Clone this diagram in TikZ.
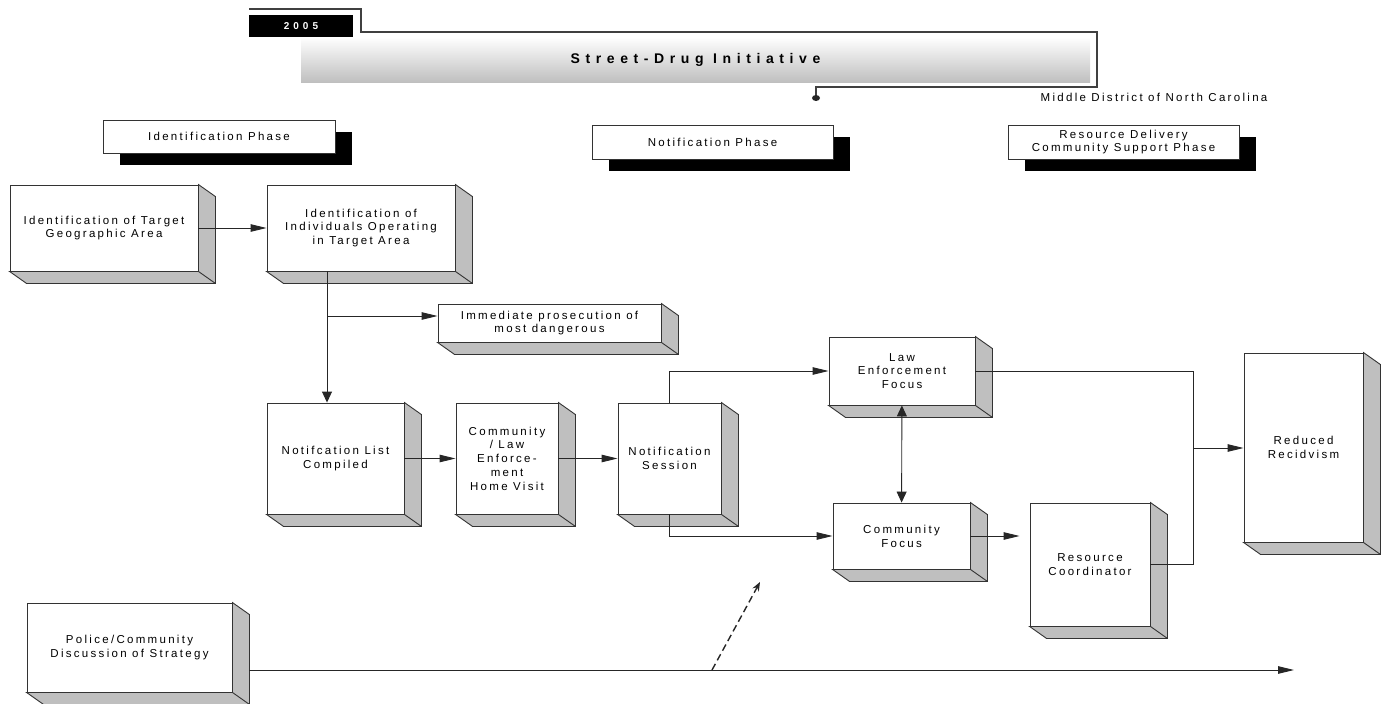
\documentclass[tikz,border=0pt]{standalone}
\usepackage{fontspec}
\setmainfont{Liberation Sans}[LetterSpace=20]
\newfontfamily\titlefont{Liberation Sans}[LetterSpace=40]
\newfontfamily\yearfont{Liberation Sans}[LetterSpace=40]
\usetikzlibrary{arrows.meta,shadows,calc}

\tikzset{
  box/.style={draw=black!80, fill=white, line width=0.9pt, align=center, inner sep=0pt,
    font=\fontsize{11.5}{13.8}\selectfont},
  phase/.style={box, drop shadow={shadow xshift=17pt, shadow yshift=-12pt, fill=black, opacity=1}},
  face/.style={draw=black!80, fill=black!25, line width=0.9pt},
  conn/.style={draw=black!85, line width=0.9pt},
  arr/.style={-{Triangle[length=16pt,width=7.5pt]}},
  varr/.style={-{Triangle[length=11pt,width=10pt]}},
  dbl/.style={{Triangle[length=11pt,width=10pt]}-{Triangle[length=11pt,width=10pt]}}
}

\begin{document}
\begin{tikzpicture}[x=1pt,y=-1pt]
  \useasboundingbox (0,0) rectangle (1382,704);

  % title
  \node[top color=white, bottom color=black!25, minimum width=789pt, minimum height=45pt, inner sep=0pt,
    font=\titlefont\fontsize{14}{16}\selectfont\bfseries] (ttl) at (695.5,59.5) {Street-Drug Initiative};
  \node[fill=black, text=white, minimum width=104pt, minimum height=22pt, inner sep=0pt,
    font=\yearfont\fontsize{10}{11}\selectfont\bfseries] (yr) at (301,26) {2005};
  \draw[black!75, line width=1.2pt] (249,9) -- (361,9) -- (361,32) -- (1097,32) -- (1097,87) -- (816,87) -- (816,97);
  \fill[black!85] (816,98) ellipse (4pt and 3pt);
  \node[font=\fontsize{11.5}{13}\selectfont] (mdc) at (1154,97) {Middle District of North Carolina};

  % phases
  \node[phase, minimum width=232pt, minimum height=33pt] (idp) at (219,136.5) {Identification Phase};
  \node[phase, minimum width=241pt, minimum height=34pt] (ntp) at (712.5,142) {Notification Phase};
  \node[phase, minimum width=231pt, minimum height=34pt] (rdp) at (1123.5,142) {Resource Delivery\\Community Support Phase};

  % steps
  \node[box, minimum width=188pt, minimum height=86pt] (tga) at (104,228) {Identification of Target\\Geographic Area};
  \node[box, minimum width=188pt, minimum height=86pt] (ind) at (361,228) {Identification of\\Individuals Operating\\in Target Area};
  \node[box, minimum width=223pt, minimum height=38pt] (imm) at (549.5,323) {Immediate prosecution of\\most dangerous};
  \node[box, minimum width=137pt, minimum height=111pt] (nlc) at (335.5,458.5) {Notifcation List\\Compiled};
  \node[box, minimum width=102pt, minimum height=111pt] (clh) at (507,458.5) {Community\\/ Law\\Enforce-\\ment\\Home Visit};
  \node[box, minimum width=103pt, minimum height=111pt] (ns) at (669.5,458.5) {Notification\\Session};
  \node[box, minimum width=146pt, minimum height=68pt] (lef) at (902,371) {Law\\Enforcement\\Focus};
  \node[box, minimum width=137pt, minimum height=66pt] (cf) at (901.5,536) {Community\\Focus};
  \node[box, minimum width=120pt, minimum height=123pt] (rc) at (1090,564.5) {Resource\\Coordinator};
  \node[box, minimum width=119pt, minimum height=189pt] (rr) at (1303.5,447.5) {Reduced\\Recidvism};
  \node[box, minimum width=205pt, minimum height=89pt] (pcd) at (129.5,647.5) {Police/Community\\Discussion of Strategy};

  \foreach \n in {tga,ind,imm,nlc,clh,ns,lef,cf,rc,rr,pcd}
    \draw[face] (\n.north east) -- ++(17,12) -- ($(\n.south east)+(17,12)$) -- ($(\n.south west)+(17,12)$)
      -- (\n.south west) -- (\n.south east) -- cycle (\n.south east) -- ++(17,12);

  \coordinate (split) at (327,316);
  \coordinate (mrg) at (1193,448);
  \coordinate (tls) at ($(pcd.east)+(17,22.5)$);
  \coordinate (tle) at (1294,670);
  \coordinate (dsa) at (712,670);
  \coordinate (dsb) at (760,582);

  \draw[conn,arr] (tga) -- (ind);
  \draw[conn,varr] (ind.south -| split) -- (nlc.north -| split);
  \draw[conn,arr] (split) -- (split -| imm.west);
  \draw[conn,arr] (nlc) -- (clh);
  \draw[conn,arr] (clh) -- (ns);
  \draw[conn,arr] (ns.north) |- (lef.west);
  \draw[conn,arr] (ns.south) |- (cf.west);
  \draw[conn,dbl] (lef) -- (cf);
  \draw[conn,arr,shorten >=10pt] (cf.east) -- (cf.east -| rc.west);
  \draw[conn] (lef.east) -| (mrg) |- (rc.east);
  \draw[conn,arr] (mrg) -- (mrg -| rr.west);
  \draw[conn,arr] (tls) -- (tle);
  \draw[conn,line width=1.4pt,dash pattern=on 7pt off 4pt,-{Stealth[length=9pt,width=7pt]}] (dsa) -- (dsb);
\end{tikzpicture}
\end{document}
